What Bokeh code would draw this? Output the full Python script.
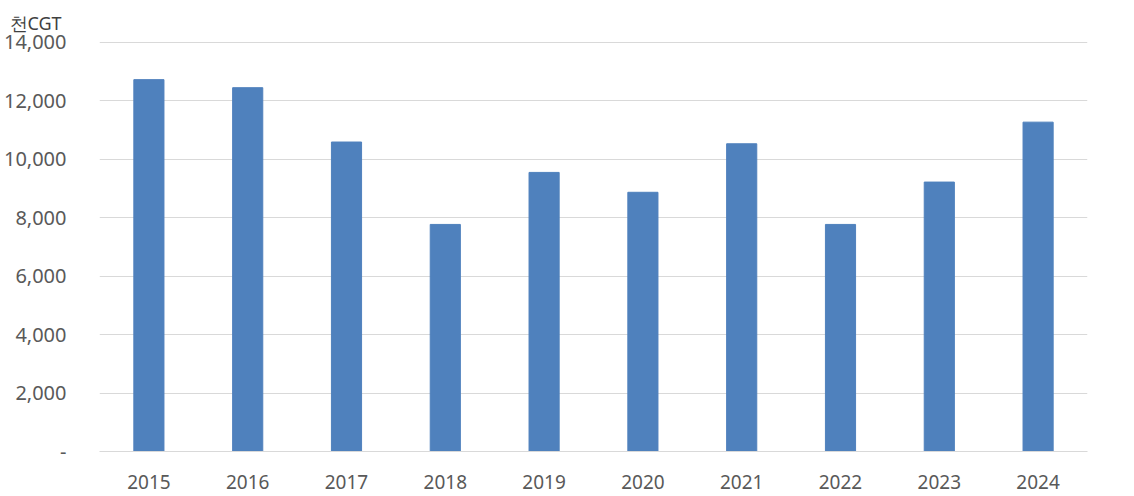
from bokeh.plotting import figure
from bokeh.models import FixedTicker, NumeralTickFormatter, Title, Range1d, ColumnDataSource
from bokeh.embed import file_html
from bokeh.resources import INLINE

years = ["2015", "2016", "2017", "2018", "2019", "2020", "2021", "2022", "2023", "2024"]
values = [12725, 12450, 10590, 7770, 9550, 8870, 10530, 7770, 9220, 11270]
y_ticks = [0, 2000, 4000, 6000, 8000, 10000, 12000, 14000]
unit_label = "천CGT"

src = ColumnDataSource(data=dict(year=years, value=values))

p = figure(x_range=years, width=1134, height=496, output_backend="svg",
           toolbar_location=None, min_border_left=98, min_border_right=47,
           min_border_top=41, min_border_bottom=45)
p.y_range = Range1d(0, 14030)
p.vbar(x="year", top="value", width=0.305, source=src, color="#4F81BD")

p.outline_line_color = None
p.background_fill_color = "white"
p.border_fill_color = "white"

p.xgrid.grid_line_color = None
p.ygrid.grid_line_color = "#d9d9d9"
p.ygrid.grid_line_width = 1

p.yaxis.ticker = FixedTicker(ticks=y_ticks)
p.yaxis.formatter = NumeralTickFormatter(format="0,0")
p.yaxis.major_label_overrides = {0: "-"}
p.yaxis.axis_line_color = None
p.yaxis.major_tick_line_color = None
p.yaxis.minor_tick_line_color = None
p.yaxis.major_label_standoff = 27
p.yaxis.major_label_text_font = "Noto Sans"
p.yaxis.major_label_text_font_size = "20px"
p.yaxis.major_label_text_color = "#595959"

p.xaxis.axis_line_color = "#d9d9d9"
p.xaxis.major_tick_line_color = None
p.xaxis.minor_tick_line_color = None
p.xaxis.major_label_standoff = 17
p.xaxis.major_label_text_font = "Noto Sans"
p.xaxis.major_label_text_font_size = "19px"
p.xaxis.major_label_text_color = "#595959"

p.add_layout(Title(text=unit_label, align="left", offset=-90, standoff=14,
                   text_font="Noto Sans", text_font_size="18px",
                   text_font_style="normal", text_color="#404040"), "above")

open("out.html", "w").write(file_html(p, INLINE))
